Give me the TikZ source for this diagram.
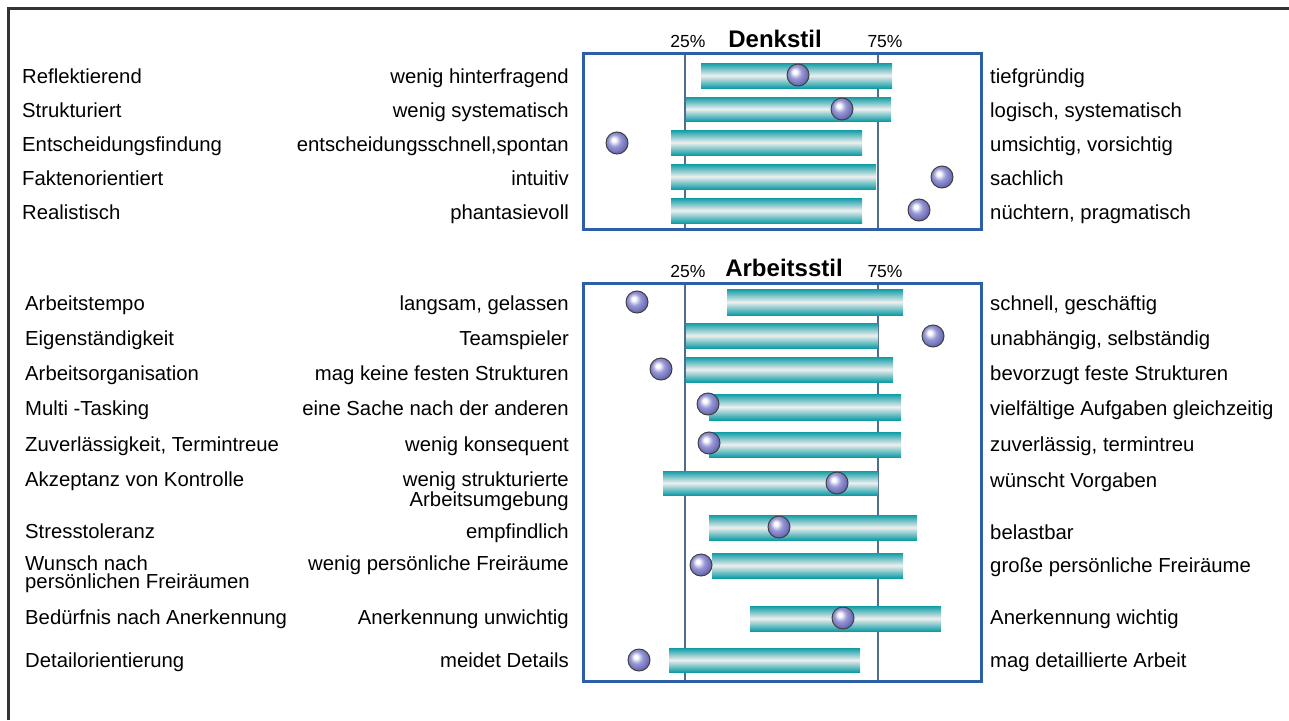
\documentclass[tikz,border=0pt]{standalone}
\usepackage{fontspec}
\setmainfont{Liberation Sans}

\definecolor{framegray}{HTML}{333333}
\definecolor{boxblue}{HTML}{2D5FA6}
\definecolor{gridblue}{HTML}{4F6D8F}
\definecolor{barteal}{HTML}{0E9CA5}
\definecolor{barmid}{HTML}{EFEFEF}
\definecolor{balllav}{HTML}{9898D6}
\definecolor{balledge}{HTML}{6A6AB4}

\pgfdeclareradialshading{lavball}{\pgfpoint{-8bp}{8bp}}{%
  color(0bp)=(white); color(4bp)=(white); color(14bp)=(balllav);
  color(26bp)=(balledge); color(50bp)=(balledge)}

\tikzset{
  lefttxt/.style={anchor=base west,inner sep=0pt,font=\fontsize{20.3}{18.5}\selectfont},
  midtxt/.style={anchor=base east,inner sep=0pt,align=right,font=\fontsize{20.3}{20}\selectfont},
  righttxt/.style={anchor=base west,inner sep=0pt,font=\fontsize{20.3}{18.5}\selectfont},
  pct/.style={anchor=base,inner sep=0pt,font=\fontsize{17.5}{20}\selectfont},
  heading/.style={anchor=base,inner sep=0pt,font=\fontsize{24}{26}\selectfont\bfseries},
  scalebox/.style={draw=boxblue,line width=3pt},
  quartile/.style={draw=gridblue,line width=2.5pt},
  bar/.style={top color=barteal,bottom color=barteal,middle color=barmid},
  ball/.style={circle,draw=black!75,line width=1pt,shade,shading=lavball,minimum size=22pt,inner sep=0pt}
}

\begin{document}
\begin{tikzpicture}[x=1pt,y=-1pt]
            \useasboundingbox (0,0) rectangle (1289,720);
            \draw[framegray,line width=3pt] (8,720) -- (8,8) -- (1289,8);

            % Denkstil
            \node[pct] (d25) at (688,47) {25\%};
            \node[heading] (dhead) at (775,47) {Denkstil};
            \node[pct] (d75) at (885,47) {75\%};
            \draw[quartile] (685,53) -- (685,229);
            \draw[quartile] (878,53) -- (878,229);
            \draw[scalebox] (583,53) rectangle (981,229);

            \shade[bar] (701,63) rectangle (892,88);
            \shade[bar] (686,97) rectangle (891,121);
            \shade[bar] (671,130) rectangle (862,155);
            \shade[bar] (671,164) rectangle (876,189);
            \shade[bar] (671,198) rectangle (862,223);

            \node[ball] (dball1) at (798,75) {};
            \node[ball] (dball2) at (842,109) {};
            \node[ball] (dball3) at (617,143) {};
            \node[ball] (dball4) at (942,177) {};
            \node[ball] (dball5) at (919,210) {};

            \node[lefttxt] (refl) at (22,83) {Reflektierend};
            \node[midtxt] (refl-lo) at (569,83) {wenig hinterfragend};
            \node[righttxt] (refl-hi) at (990,83) {tiefgründig};

            \node[lefttxt] (strukt) at (22,117) {Strukturiert};
            \node[midtxt] (strukt-lo) at (569,117) {wenig systematisch};
            \node[righttxt] (strukt-hi) at (990,117) {logisch, systematisch};

            \node[lefttxt] (entsch) at (22,151) {Entscheidungsfindung};
            \node[midtxt] (entsch-lo) at (569,151) {entscheidungsschnell,spontan};
            \node[righttxt] (entsch-hi) at (990,151) {umsichtig, vorsichtig};

            \node[lefttxt] (fakt) at (22,185) {Faktenorientiert};
            \node[midtxt] (fakt-lo) at (569,185) {intuitiv};
            \node[righttxt] (fakt-hi) at (990,185) {sachlich};

            \node[lefttxt] (real) at (22,219) {Realistisch};
            \node[midtxt] (real-lo) at (569,219) {phantasievoll};
            \node[righttxt] (real-hi) at (990,219) {nüchtern, pragmatisch};

            % Arbeitsstil
            \node[pct] (a25) at (688,277) {25\%};
            \node[heading] (ahead) at (784,276) {Arbeitsstil};
            \node[pct] (a75) at (885,277) {75\%};
            \draw[quartile] (685,283) -- (685,681);
            \draw[quartile] (878,283) -- (878,681);
            \draw[scalebox] (583,283) rectangle (981,681);

            \shade[bar] (727,289) rectangle (903,315);
            \shade[bar] (686,323) rectangle (878,348);
            \shade[bar] (686,357) rectangle (893,382);
            \shade[bar] (709,394) rectangle (901,420);
            \shade[bar] (709,432) rectangle (901,457);
            \shade[bar] (663,471) rectangle (878,495);
            \shade[bar] (709,515) rectangle (917,540);
            \shade[bar] (712,553) rectangle (903,578);
            \shade[bar] (750,606) rectangle (941,631);
            \shade[bar] (669,648) rectangle (860,672);

            \node[ball] (aball1) at (637,302) {};
            \node[ball] (aball2) at (933,336) {};
            \node[ball] (aball3) at (661,369) {};
            \node[ball] (aball4) at (708,404) {};
            \node[ball] (aball5) at (709,443) {};
            \node[ball] (aball6) at (837,483) {};
            \node[ball] (aball7) at (779,527) {};
            \node[ball] (aball8) at (701,565) {};
            \node[ball] (aball9) at (843,618) {};
            \node[ball] (aball10) at (639,660) {};

            \node[lefttxt] (tempo) at (25,310) {Arbeitstempo};
            \node[midtxt] (tempo-lo) at (569,310) {langsam, gelassen};
            \node[righttxt] (tempo-hi) at (990,310) {schnell, geschäftig};

            \node[lefttxt] (eigen) at (25,345) {Eigenständigkeit};
            \node[midtxt] (eigen-lo) at (569,345) {Teamspieler};
            \node[righttxt] (eigen-hi) at (990,345) {unabhängig, selbständig};

            \node[lefttxt] (orga) at (25,380) {Arbeitsorganisation};
            \node[midtxt] (orga-lo) at (569,380) {mag keine festen Strukturen};
            \node[righttxt] (orga-hi) at (990,380) {bevorzugt feste Strukturen};

            \node[lefttxt] (multi) at (25,415) {Multi -Tasking};
            \node[midtxt] (multi-lo) at (569,415) {eine Sache nach der anderen};
            \node[righttxt] (multi-hi) at (990,415) {vielfältige Aufgaben gleichzeitig};

            \node[lefttxt] (zuverl) at (25,451) {Zuverlässigkeit, Termintreue};
            \node[midtxt] (zuverl-lo) at (569,451) {wenig konsequent};
            \node[righttxt] (zuverl-hi) at (990,451) {zuverlässig, termintreu};

            \node[lefttxt] (kontr) at (25,486) {Akzeptanz von Kontrolle};
            \node[midtxt,anchor=north east] (kontr-lo) at (569,472) {wenig strukturierte\\Arbeitsumgebung};
            \node[righttxt] (kontr-hi) at (990,487) {wünscht Vorgaben};

            \node[lefttxt] (stress) at (25,538) {Stresstoleranz};
            \node[midtxt] (stress-lo) at (569,538) {empfindlich};
            \node[righttxt] (stress-hi) at (990,539) {belastbar};

            \node[lefttxt,align=left,anchor=north west] (frei) at (25,555.5) {Wunsch nach\\persönlichen Freiräumen};
            \node[midtxt] (frei-lo) at (569,570) {wenig persönliche Freiräume};
            \node[righttxt] (frei-hi) at (990,572) {große persönliche Freiräume};

            \node[lefttxt] (anerk) at (25,624) {Bedürfnis nach Anerkennung};
            \node[midtxt] (anerk-lo) at (569,624) {Anerkennung unwichtig};
            \node[righttxt] (anerk-hi) at (990,624) {Anerkennung wichtig};

            \node[lefttxt] (detail) at (25,667) {Detailorientierung};
            \node[midtxt] (detail-lo) at (569,667) {meidet Details};
            \node[righttxt] (detail-hi) at (990,667) {mag detaillierte Arbeit};
          \end{tikzpicture}
\end{document}
